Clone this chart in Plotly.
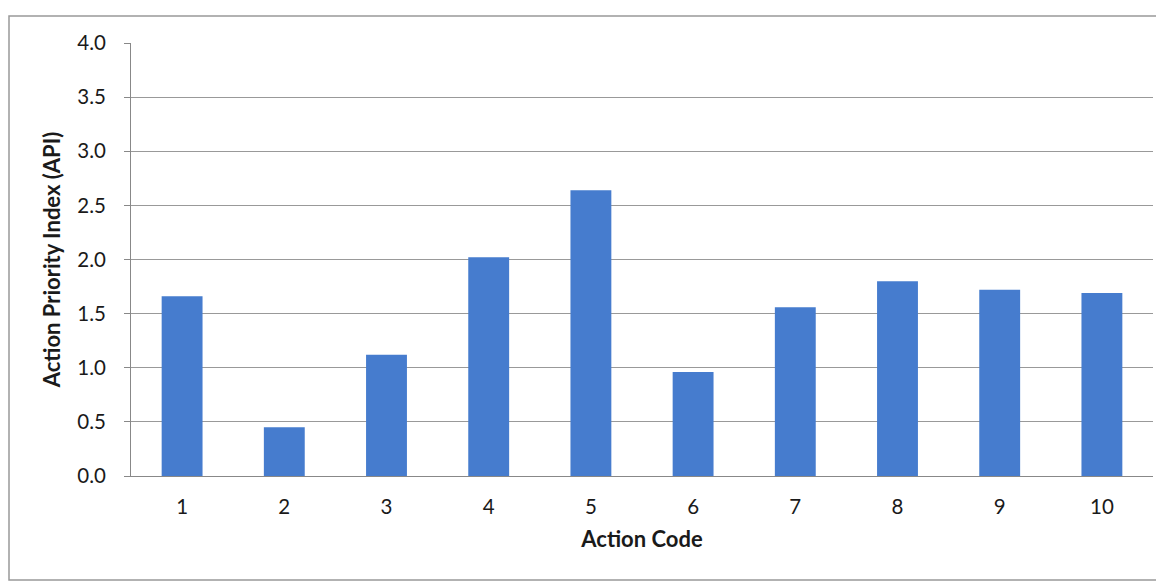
import plotly.graph_objects as go

categories = ["1", "2", "3", "4", "5", "6", "7", "8", "9", "10"]
api_values = [1.66, 0.45, 1.12, 2.02, 2.64, 0.96, 1.56, 1.80, 1.72, 1.69]
y_ticks = [0.0, 0.5, 1.0, 1.5, 2.0, 2.5, 3.0, 3.5, 4.0]

# page offset of the figure inside the browser window
OFF = 8
W, H = 1164 - OFF, 586 - OFF
L, R, T, B = 131 - OFF, 19 - OFF, 43 - OFF, 110

fig = go.Figure(go.Bar(
    x=categories, y=api_values,
    marker=dict(color="#467cce", line=dict(width=0)),
))

font_family = "Lato, 'Open Sans', sans-serif"
fig.update_layout(
    width=W, height=H,
    margin=dict(l=L, r=R, t=T, b=B),
    paper_bgcolor="white", plot_bgcolor="white",
    bargap=0.6, showlegend=False,
    font=dict(family=font_family, size=20, color="#1a1a1a"),
    xaxis=dict(
        type="category", showline=True, linecolor="#888", linewidth=1,
        showgrid=False, ticks="", tickfont=dict(size=20.5),
        ticklabelstandoff=12,
        title=dict(text="<b>Action Code</b>", font=dict(size=22), standoff=15),
    ),
    yaxis=dict(
        range=[0, 4.0], tickvals=y_ticks, tickformat=".1f",
        showline=True, linecolor="#888", linewidth=1,
        showgrid=True, gridcolor="#999", gridwidth=1,
        ticks="outside", ticklen=6, tickcolor="#888",
        tickfont=dict(size=20.5), ticklabelstandoff=14,
        zeroline=False,
        title=dict(text="<b>Action Priority Index (API)</b>", font=dict(size=22), standoff=10),
    ),
)

pw = W - L - R
ph = H - T - B
fig.add_shape(
    type="rect", xref="paper", yref="paper",
    x0=(1 - L) / pw, x1=(1158 - OFF - L) / pw,
    y0=(H - B - (580 - OFF)) / ph, y1=(H - B - (16 - OFF)) / ph,
    line=dict(color="#999", width=1.5), fillcolor="rgba(0,0,0,0)", layer="below",
)

fig.write_html("out.html")
